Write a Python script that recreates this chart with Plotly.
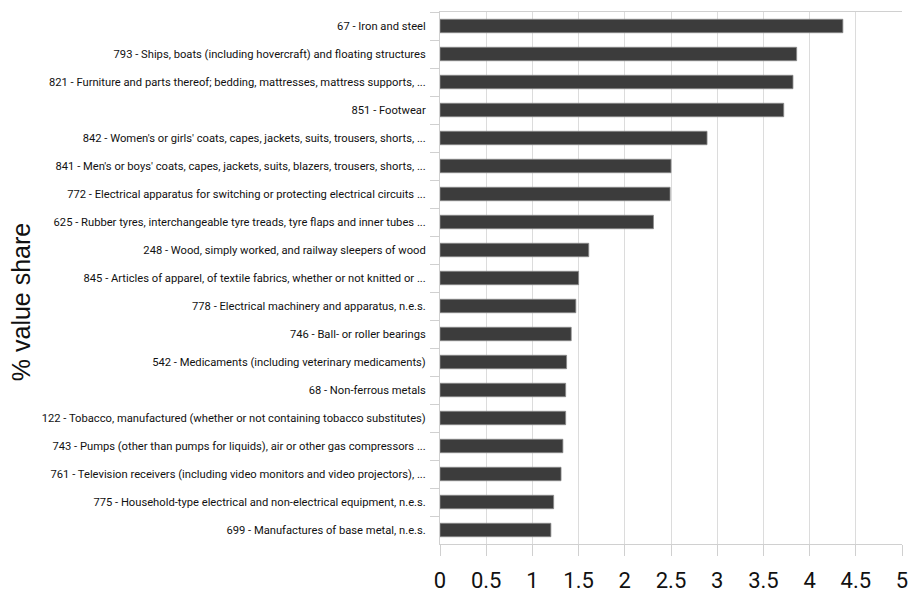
import plotly.graph_objects as go

categories = [
    "67 - Iron and steel",
    "793 - Ships, boats (including hovercraft) and floating structures",
    "821 - Furniture and parts thereof; bedding, mattresses, mattress supports, ...",
    "851 - Footwear",
    "842 - Women's or girls' coats, capes, jackets, suits, trousers, shorts, ...",
    "841 - Men's or boys' coats, capes, jackets, suits, blazers, trousers, shorts, ...",
    "772 - Electrical apparatus for switching or protecting electrical circuits ...",
    "625 - Rubber tyres, interchangeable tyre treads, tyre flaps and inner tubes ...",
    "248 - Wood, simply worked, and railway sleepers of wood",
    "845 - Articles of apparel, of textile fabrics, whether or not knitted or ...",
    "778 - Electrical machinery and apparatus, n.e.s.",
    "746 - Ball- or roller bearings",
    "542 - Medicaments (including veterinary medicaments)",
    "68 - Non-ferrous metals",
    "122 - Tobacco, manufactured (whether or not containing tobacco substitutes)",
    "743 - Pumps (other than pumps for liquids), air or other gas compressors ...",
    "761 - Television receivers (including video monitors and video projectors), ...",
    "775 - Household-type electrical and non-electrical equipment, n.e.s.",
    "699 - Manufactures of base metal, n.e.s.",
]
values = [4.36, 3.86, 3.82, 3.72, 2.89, 2.50, 2.49, 2.31, 1.61, 1.50,
          1.47, 1.42, 1.37, 1.36, 1.36, 1.33, 1.31, 1.23, 1.20]
x_ticks = [0, 0.5, 1, 1.5, 2, 2.5, 3, 3.5, 4, 4.5, 5]
x_ticktext = ["0", "0.5", "1", "1.5", "2", "2.5", "3", "3.5", "4", "4.5", "5"]
y_title = "% value share"

label_font = "Roboto, Liberation Sans, sans-serif"

fig = go.Figure(go.Bar(
    x=values, y=categories, orientation="h",
    width=0.48,
    marker=dict(color="#3c3c3c", line=dict(color="#8a8a8a", width=0.8)),
    hoverinfo="x+y",
))

fig.update_layout(
    width=909, height=592,
    margin=dict(l=440, r=7, t=12, b=48),
    paper_bgcolor="white", plot_bgcolor="white",
    showlegend=False,
    annotations=[dict(
        text=y_title, textangle=-90,
        xref="paper", yref="paper", x=-0.908, y=0.4536,
        xanchor="center", yanchor="middle", showarrow=False,
        font=dict(family="Liberation Sans, Arial, sans-serif", size=25, color="#111111"),
    )],
)
fig.update_xaxes(
    range=[0, 5], tickvals=x_ticks, ticktext=x_ticktext,
    showgrid=True, gridcolor="#dcdcdc", gridwidth=1,
    ticks="outside", ticklen=11, tickcolor="#d0d0d0",
    showline=True, linecolor="#d0d0d0", linewidth=1, mirror=True,
    tickfont=dict(family=label_font, size=22, color="#111111"),
    ticklabelstandoff=6, ticklabeloverflow="allow", automargin=False,
    zeroline=False, fixedrange=True,
)
fig.update_yaxes(
    autorange="reversed", type="category",
    tickson="boundaries", ticks="outside", ticklen=9, tickcolor="#d0d0d0",
    showline=True, linecolor="#d0d0d0", linewidth=1,
    showgrid=False,
    tickfont=dict(family=label_font, size=11.2, color="#111111"),
    ticklabelstandoff=11, ticklabeloverflow="allow",
    automargin=False, fixedrange=True,
)

fig.write_html(
    "out.html",
    config={"displayModeBar": False},
    post_script="document.body.style.margin='0';"
                "document.body.style.overflow='hidden';"
                "document.documentElement.style.overflow='hidden';",
)
